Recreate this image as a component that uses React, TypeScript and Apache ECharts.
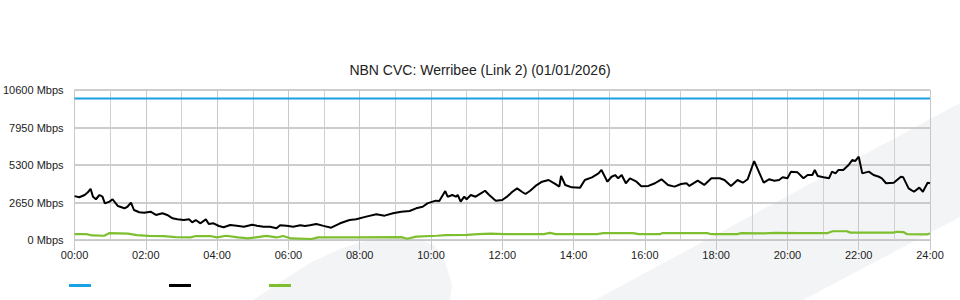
import React, { useEffect, useRef } from "react";
import * as echarts from "echarts";

const TITLE = "NBN CVC: Werribee (Link 2) (01/01/2026)";
const SERIES_NAMES = ["Capacity", "Download", "Upload"];
const Y_TICKS = [0, 2650, 5300, 7950, 10600];

// capacity (Mbps) at start and end of day (minutes)
const capacityMinutes = [0, 1440];
const capacityValues = [10000, 10000];

// download traffic: minute of day, Mbps
const downMinutes = [
  0, 8, 17, 22, 27, 31, 36, 42, 47, 51, 59, 64, 73, 84, 89, 95, 100, 109, 117, 128,
  137, 148, 156, 165, 173, 184, 193, 198, 204, 212, 221, 226, 234, 243, 251, 262, 273, 285, 299, 307,
  318, 329, 340, 346, 357, 368, 380, 388, 396, 407, 419, 432, 447, 463, 474, 491, 508, 522, 536, 550,
  564, 575, 586, 594, 608, 614, 624, 628, 636, 642, 645, 650, 656, 660, 667, 675, 684, 691, 698, 709,
  720, 728, 737, 745, 753, 759, 767, 776, 787, 798, 809, 816, 819, 826, 837, 851, 859, 871, 882, 887,
  897, 904, 910, 915, 921, 928, 935, 946, 954, 966, 977, 988, 999, 1010, 1021, 1030, 1035, 1049, 1060, 1072,
  1086, 1094, 1105, 1116, 1125, 1133, 1144, 1160, 1169, 1178, 1186, 1192, 1200, 1206, 1217, 1227, 1234, 1242, 1246, 1251,
  1261, 1270, 1275, 1281, 1286, 1294, 1303, 1309, 1314, 1320, 1326, 1337, 1345, 1354, 1359, 1366, 1379, 1391, 1395, 1404,
  1413, 1422, 1428, 1436, 1440,
];
const downValues = [
  3100, 3020, 3180, 3350, 3620, 3060, 2880, 3180, 3060, 2590, 2710, 2880, 2400, 2240, 2350, 2640, 2120, 1960, 1930, 2000,
  1770, 1890, 1770, 1530, 1460, 1410, 1460, 1250, 1410, 1180, 1460, 1130, 1180, 990, 900, 1060, 1010, 940, 1080, 1010,
  940, 940, 830, 1040, 1010, 940, 1040, 990, 1040, 1130, 1000, 870, 1180, 1410, 1460, 1650, 1820, 1720, 1890, 2000,
  2050, 2240, 2350, 2590, 2780, 2760, 3460, 3060, 3180, 3060, 3180, 2710, 3060, 2880, 3180, 3060, 3300, 3480, 3180, 2780,
  2830, 3060, 3410, 3650, 3410, 3250, 3480, 3820, 4120, 4240, 3960, 3770, 4520, 3890, 3720, 3700, 4240, 4430, 4710, 4950,
  4120, 4470, 4590, 4360, 4590, 4010, 4360, 4120, 3800, 3820, 4010, 4290, 3890, 3770, 3960, 4010, 3820, 4190, 3890, 4360,
  4360, 4240, 3820, 4240, 4050, 4290, 5580, 4050, 4290, 4190, 4240, 4430, 4360, 4830, 4780, 4360, 4590, 4590, 4950, 4520,
  4430, 4360, 4830, 4710, 4950, 4950, 5300, 5650, 5580, 5890, 4710, 4830, 4590, 4470, 4360, 4010, 4050, 4470, 4430, 3650,
  3410, 3700, 3410, 4050, 4010,
];

// upload traffic: minute of day, Mbps
const upMinutes = [
  0, 20, 30, 50, 58, 75, 90, 105, 125, 150, 170, 195, 205, 228, 240, 255, 275, 292, 305, 323,
  340, 351, 365, 399, 410, 470, 550, 560, 575, 610, 625, 660, 680, 700, 725, 790, 800, 810, 880, 890,
  940, 950, 985, 990, 1065, 1072, 1115, 1122, 1160, 1180, 1220, 1268, 1276, 1300, 1306, 1378, 1385, 1395, 1401, 1435,
  1440,
];
const upValues = [
  420, 420, 320, 300, 480, 470, 450, 350, 290, 280, 200, 190, 280, 280, 190, 300, 180, 110, 190, 290,
  180, 280, 110, 70, 190, 190, 200, 90, 240, 300, 350, 360, 420, 450, 420, 420, 500, 420, 420, 490,
  490, 410, 410, 490, 490, 410, 410, 490, 470, 500, 480, 490, 620, 620, 520, 520, 580, 560, 420, 400,
  460,
];

const COLORS = ["#1ba0e1", "#000000", "#7dbf2e"];

const zip = (xs: number[], ys: number[]) => xs.map((x, i) => [x, ys[i]]);

export default function App() {
  const ref = useRef<HTMLDivElement>(null);

  useEffect(() => {
    if (!ref.current) return;
    const chart = echarts.init(ref.current, undefined, { renderer: "svg" });
    const font = "Liberation Sans, Arial, sans-serif";
    chart.setOption({
      animation: false,
      backgroundColor: "#ffffff",
      textStyle: { fontFamily: font },
      title: {
        text: TITLE,
        left: "center",
        top: 63,
        padding: 0,
        textStyle: { fontFamily: font, fontSize: 14, fontWeight: "normal", color: "#222" },
      },
      graphic: [
        {
          type: "polygon",
          z: -10,
          silent: true,
          shape: {
            points: [
              [253, 300], [280, 282], [310, 263], [340, 249], [365, 241], [390, 238],
              [420, 239], [435, 246], [445, 262], [452, 285], [450, 300],
            ],
          },
          style: { fill: "#f3f4f6" },
        },
        {
          type: "polygon",
          z: -10,
          silent: true,
          shape: { points: [[595, 300], [960, 103], [960, 217], [803, 300]] },
          style: { fill: "#f3f4f6" },
        },
      ],
      legend: {
        left: 69,
        top: 284,
        icon: "rect",
        itemWidth: 22,
        itemHeight: 3,
        itemGap: 78,
        padding: 0,
        formatter: () => "",
        data: SERIES_NAMES,
      },
      grid: { left: 70, right: 30, top: 90, bottom: 60, containLabel: false },
      xAxis: {
        type: "value",
        min: 0,
        max: 1440,
        interval: 120,
        axisLine: { show: true, lineStyle: { color: "#c8c8c8", width: 1 } },
        axisTick: { show: true, length: 10, lineStyle: { color: "#c8c8c8" } },
        axisLabel: {
          color: "#222",
          fontSize: 11,
          fontFamily: font,
          margin: 9,
          formatter: (v: number) => `${String(Math.round(v / 60)).padStart(2, "0")}:00`,
        },
        splitLine: { show: true, lineStyle: { color: "#c8c8c8", width: 1 } },
        minorTick: { show: false, splitNumber: 2 },
        minorSplitLine: { show: true, lineStyle: { color: "#d0d0d0", width: 1 } },
      },
      yAxis: {
        type: "value",
        min: Y_TICKS[0],
        max: Y_TICKS[Y_TICKS.length - 1],
        interval: Y_TICKS[1] - Y_TICKS[0],
        axisLine: { show: true, lineStyle: { color: "#c8c8c8", width: 1 } },
        axisTick: { show: false },
        axisLabel: {
          color: "#222",
          fontSize: 11,
          fontFamily: font,
          margin: 11,
          formatter: (v: number) => `${v} Mbps`,
        },
        splitLine: { show: true, lineStyle: { color: "#bdbdbd", width: 1.5 } },
      },
      series: [
        {
          name: SERIES_NAMES[0],
          type: "line",
          data: zip(capacityMinutes, capacityValues),
          showSymbol: false,
          color: COLORS[0],
          lineStyle: { color: COLORS[0], width: 2 },
          z: 3,
        },
        {
          name: SERIES_NAMES[1],
          type: "line",
          data: zip(downMinutes, downValues),
          showSymbol: false,
          color: COLORS[1],
          lineStyle: { color: COLORS[1], width: 2 },
          z: 4,
        },
        {
          name: SERIES_NAMES[2],
          type: "line",
          data: zip(upMinutes, upValues),
          showSymbol: false,
          color: COLORS[2],
          lineStyle: { color: COLORS[2], width: 2.2 },
          z: 4,
        },
      ],
    });
    return () => chart.dispose();
  }, []);

  return (
    <div
      ref={ref}
      style={{ position: "fixed", left: 0, top: 0, width: 960, height: 300 }}
    />
  );
}
